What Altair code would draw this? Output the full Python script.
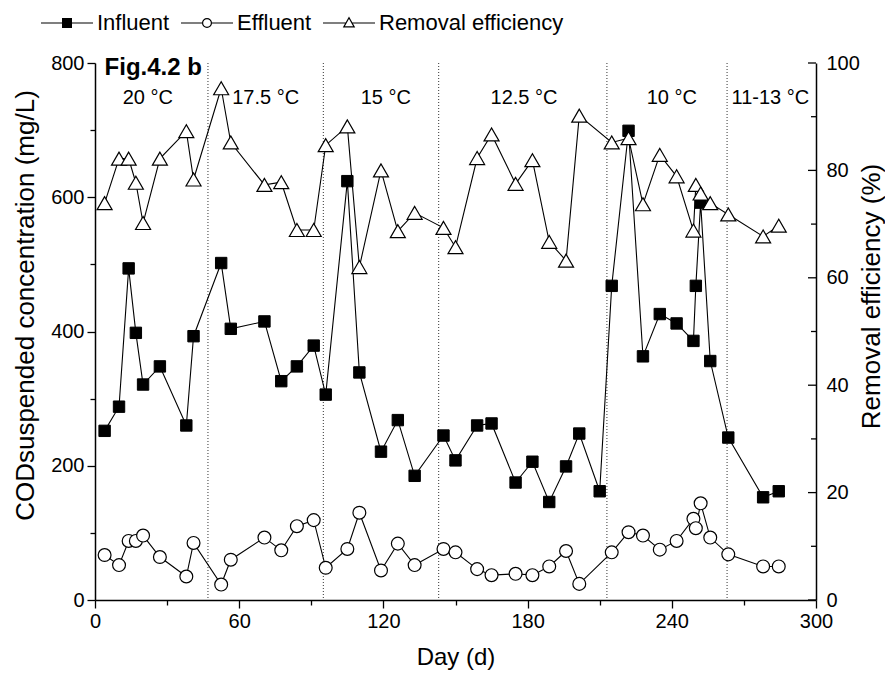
import altair as alt
import pandas as pd

# ---- data ----
days = [4, 10, 14, 17, 20, 27, 38, 41, 52.5, 56.5, 70.5, 77.5, 84, 91, 96,
        105, 110, 119, 126, 133, 145, 150, 159, 165, 175, 182, 189, 196, 201.5,
        210, 215, 222, 228, 235, 242, 249, 250, 252, 256, 263.5, 278, 284.5]
influent = [252, 288, 494, 398, 321, 348, 260, 393, 502, 404, 415, 326, 348, 379, 306,
            624, 339, 221, 268, 185, 245, 208, 260, 263, 175, 206, 146, 199, 248,
            162, 468, 699, 363, 426, 412, 386, 468, 592, 356, 242, 153, 162]
effluent = [67, 52, 88, 88, 96, 64, 35, 85, 23, 60, 93, 74, 110, 119, 48,
            76, 130, 44, 84, 52, 76, 71, 46, 37, 39, 37, 50, 73, 24,
            None, 71, 101, 96, 75, 88, 121, 107, 144, 93, 68, 50, 50]
removal = [73.9, 82.2, 82.2, 77.7, 70.2, 82.2, 87.3, 78.3, 95.3, 85.2, 77.3, 77.8, 68.9, 68.9, 84.7,
           88.2, 62.0, 80.0, 68.7, 72.1, 69.3, 65.7, 82.3, 86.7, 77.5, 81.9, 66.7, 63.2, 90.2,
           None, 85.2, 86.0, 73.7, 82.9, 78.9, 68.8, 77.3, 75.7, 73.9, 71.8, 67.7, 69.7]

phase_bounds = [47, 95, 143, 213, 263]
temp_labels = ["20 \u00b0C", "17.5 \u00b0C", "15 \u00b0C", "12.5 \u00b0C", "10 \u00b0C", "11-13 \u00b0C"]
temp_days = [22, 71, 121, 178.5, 240, 281]
temp_level = [748] * 6
fig_label = ["Fig.4.2 b"]
fig_day = [4]
fig_level = [792]

right_major = [0, 20, 40, 60, 80, 100]
right_minor = [10, 30, 50, 70, 90]

series_names = ["Influent", "Effluent", "Removal efficiency"]

# ---- tables ----
df = pd.DataFrame({"day": days, "inf": influent, "eff": effluent, "rem": removal})
df_inf = df[["day", "inf"]]
df_eff = df[["day", "eff"]].dropna()
df_rem = df[["day", "rem"]].dropna()
df_bounds = pd.DataFrame({"day": phase_bounds})
df_temp = pd.DataFrame({"day": temp_days, "lab": temp_labels, "lvl": temp_level})
df_fig = pd.DataFrame({"day": fig_day, "lab": fig_label, "lvl": fig_level})
df_rmaj = pd.DataFrame({"rem": right_major})
df_rmin = pd.DataFrame({"rem": right_minor})

# ---- legend symbols (line - marker - line) ----
hatch = "".join(f"M-0.17,{y/100:.2f}H0.17" for y in range(-17, 18, 3))
sq_path = "M-1,0H-0.17M0.17,0H1M-0.17,-0.17H0.17V0.17H-0.17Z" + hatch
ci_path = "M-1,0H-0.17M0.17,0H1M-0.17,0A0.17,0.17,0,1,0,0.17,0A0.17,0.17,0,1,0,-0.17,0Z"
tr_path = "M-1,0H-0.115M0.115,0H1M-0.2,0.15L0.2,0.15L0,-0.2Z"

# ---- scales & axes ----
x_scale = alt.Scale(domain=[0, 300], nice=False, zero=False)
yl_scale = alt.Scale(domain=[0, 800], nice=False)
yr_scale = alt.Scale(domain=[0, 100], nice=False)

common_axis = dict(grid=False, domainColor="black", domainWidth=1.5, tickColor="black",
                   tickWidth=1.3, labelFontSize=20, labelColor="black", titleColor="black",
                   titleFontWeight="normal", labelFlush=False, labelOverlap=False)

x_axis = alt.Axis(values=list(range(0, 301, 30)),
                  labelExpr="datum.value % 60 === 0 ? datum.label : ''",
                  tickSize={"condition": {"test": "datum.value % 60 === 0", "value": 8}, "value": 5},
                  labelPadding=3, title="Day (d)", titleFontSize=24,
                  titleY=57, titleBaseline="middle",
                  **common_axis)
yl_axis = alt.Axis(values=list(range(0, 801, 100)),
                   labelExpr="datum.value % 200 === 0 ? datum.label : ''",
                   tickSize={"condition": {"test": "datum.value % 200 === 0", "value": 8}, "value": 5},
                   labelPadding=3, title="CODsuspended concentration (mg/L)",
                   titleFontSize=26, titleAngle=270, titleX=-70, titleY=242,
                   titleBaseline="middle", titleAlign="center",
                   **common_axis)
yr_axis = alt.Axis(orient="right", values=list(range(0, 101, 20)), ticks=False,
                   labelPadding=10, title="Removal efficiency (%)",
                   titleFontSize=26, titleAngle=270, titleX=55, titleY=233,
                   titleBaseline="middle", titleAlign="center",
                   **common_axis)

X = alt.X("day:Q", scale=x_scale, axis=x_axis)


def YL(field):
    return alt.Y(f"{field}:Q", scale=yl_scale, axis=yl_axis)


# ---- left-axis layers ----
rules = alt.Chart(df_bounds).mark_rule(strokeDash=[1, 2], color="#333", strokeWidth=1).encode(x=X)

inf_line = alt.Chart(df_inf).mark_line(color="black", strokeWidth=1.1).encode(x=X, y=YL("inf"))
eff_line = alt.Chart(df_eff).mark_line(color="black", strokeWidth=1.1).encode(x=X, y=YL("eff"))
inf_pts = alt.Chart(df_inf).mark_point(shape="square", size=130, filled=True, fill="black",
                                       stroke="black", strokeWidth=1, opacity=1).encode(x=X, y=YL("inf"))
eff_pts = alt.Chart(df_eff).mark_point(shape="circle", size=165, filled=True, fill="white",
                                       stroke="black", strokeWidth=1.2, opacity=1).encode(x=X, y=YL("eff"))

legend_layer = alt.Chart(df_inf).transform_calculate(series="'Influent'").mark_point(
    opacity=0, color="black", strokeWidth=1.2).encode(
    x=X, y=YL("inf"),
    shape=alt.Shape("series:N",
                    scale=alt.Scale(domain=series_names, range=[sq_path, ci_path, tr_path]),
                    legend=alt.Legend(orient="none", legendX=-55, legendY=-67, direction="horizontal",
                                      title=None, symbolSize=2704, symbolStrokeWidth=1.2,
                                      symbolStrokeColor="black", symbolOpacity=1,
                                      labelFontSize=22, labelLimit=400, labelOffset=3,
                                      columnPadding=8, padding=0, labelColor="black",
                                      labelExpr="datum.label == 'Effluent' ? 'Effluent      ' : datum.label")))

temps = alt.Chart(df_temp).mark_text(fontSize=20, align="center", baseline="middle", color="black").encode(
    x=X, y=YL("lvl"), text="lab:N")
figlab = alt.Chart(df_fig).mark_text(fontSize=24, fontWeight="bold", align="left", baseline="middle",
                                     color="black").encode(x=X, y=YL("lvl"), text="lab:N")

left = alt.layer(rules, inf_line, eff_line, inf_pts, eff_pts, legend_layer, temps, figlab)

# ---- right-axis layers ----
YR = alt.Y("rem:Q", scale=yr_scale, axis=yr_axis)
rem_line = alt.Chart(df_rem).mark_line(color="black", strokeWidth=1.1).encode(x=X, y=YR)
rem_pts = alt.Chart(df_rem).mark_point(shape="triangle-up", size=225, filled=True, fill="white",
                                       stroke="black", strokeWidth=1.2, opacity=1).encode(x=X, y=YR)
# inward-pointing ticks of the right axis
rmaj = alt.Chart(df_rmaj).mark_rule(color="black", strokeWidth=1.3).encode(
    x=alt.value(713), x2=alt.value(721), y=YR)
rmin = alt.Chart(df_rmin).mark_rule(color="black", strokeWidth=1.3).encode(
    x=alt.value(716), x2=alt.value(721), y=YR)
right = alt.layer(rem_line, rem_pts, rmaj, rmin)

chart = alt.layer(left, right).resolve_scale(y="independent").properties(
    width=721, height=537,
    autosize=alt.AutoSizeParams(type="none"),
    padding={"left": 87, "top": 55, "right": 69, "bottom": 74},
).configure(font="Liberation Sans").configure_view(stroke="transparent")

chart.save("out.html", embed_options={"renderer": "svg", "actions": False})
